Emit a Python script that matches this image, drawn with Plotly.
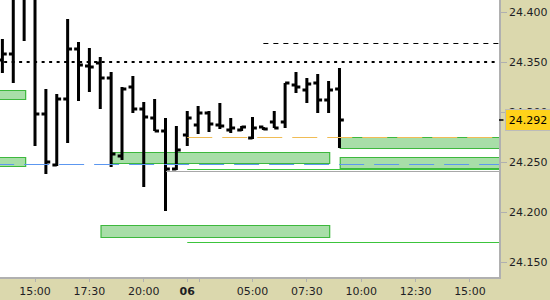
import plotly.graph_objects as go

# ---- data ----
# bar slot index (30-minute bars; 0 = 15:00 on day 5, session gap 22:00-02:00 removed)
slots = list(range(-3, 29))
opens = [24.352, 24.358, 24.420, 24.430, 24.298, 24.247, 24.313, 24.363, 24.346, 24.349,
         24.334, 24.256, 24.325, 24.303, 24.294, 24.281, 24.243, 24.277, 24.287, 24.299,
         24.287, 24.282, 24.282, 24.274, 24.285, 24.290, 24.290, 24.327, 24.322, 24.329,
         24.312, 24.323]
highs = [24.373, 24.450, 24.450, 24.440, 24.323, 24.318, 24.393, 24.370, 24.364, 24.355,
         24.340, 24.325, 24.336, 24.310, 24.313, 24.294, 24.286, 24.301, 24.306, 24.301,
         24.309, 24.294, 24.286, 24.295, 24.285, 24.301, 24.329, 24.340, 24.334, 24.338,
         24.331, 24.344]
lows = [24.339, 24.329, 24.371, 24.266, 24.238, 24.246, 24.269, 24.311, 24.320, 24.303,
        24.245, 24.252, 24.299, 24.225, 24.281, 24.201, 24.242, 24.266, 24.278, 24.280,
        24.283, 24.279, 24.281, 24.273, 24.282, 24.284, 24.284, 24.319, 24.309, 24.299,
        24.299, 24.264]
closes = [24.358, 24.420, 24.430, 24.298, 24.250, 24.313, 24.363, 24.347, 24.345, 24.334,
          24.258, 24.323, 24.303, 24.295, 24.281, 24.243, 24.262, 24.294, 24.299, 24.288,
          24.286, 24.284, 24.285, 24.284, 24.283, 24.284, 24.329, 24.325, 24.328, 24.312,
          24.322, 24.292]
last_price = 24.292

x_tick_slots = [0, 5, 10, 14, 15.1, 20, 25, 30, 35, 40]
x_tick_labels = ["15:00", "17:30", "20:00", "<b>06</b>", "", "05:00", "07:30", "10:00", "12:30", "15:00"]
y_tick_values = [24.15, 24.20, 24.25, 24.30, 24.35, 24.40]

# horizontal levels: value, start slot
dotted_level = 24.350
resist_level, resist_start = 24.3685, 21
orange_level, orange_start = 24.2745, 14
blue_level = 24.2475
gray_level, gray_start = 24.2405, 12.05
green_levels = [24.2425, 24.1695]
green_starts = [14, 14]

# zones: start slot, end slot, low, high
zone_start = [-4, -4, 6.96, 6.07, 28.07, 28.07]
zone_end = [-0.86, -0.86, 27.1, 27.1, 43, 43]
zone_low = [24.3125, 24.2455, 24.2485, 24.1745, 24.2435, 24.2635]
zone_high = [24.3215, 24.2545, 24.2595, 24.1865, 24.2545, 24.2745]

X_MIN, X_MAX = -3.22, 42.67
Y_MIN, Y_MAX = 24.135, 24.412

TAN = "#DBD8AD"
TXT = "#1E1E24"
FONT = "DejaVu Sans"

fig = go.Figure()

shapes = []
for x0, x1, lo, hi in zip(zone_start, zone_end, zone_low, zone_high):
    shapes.append(dict(type="rect", xref="x", yref="y", x0=x0, x1=min(x1, X_MAX + 1), y0=lo, y1=hi,
                       fillcolor="#A8DEA8", line=dict(color="#3DB83D", width=1.2), layer="below"))

shapes.append(dict(type="line", xref="x", yref="y", x0=X_MIN - 1, x1=X_MAX + 1, y0=dotted_level, y1=dotted_level,
                   line=dict(color="black", width=2, dash="3px,4.5px")))
shapes.append(dict(type="line", xref="x", yref="y", x0=resist_start, x1=X_MAX + 1, y0=resist_level, y1=resist_level,
                   line=dict(color="black", width=1, dash="5px,5px")))
shapes.append(dict(type="line", xref="x", yref="y", x0=orange_start, x1=X_MAX + 1, y0=orange_level, y1=orange_level,
                   line=dict(color="#F0BC55", width=1, dash="25px,10px")))
shapes.append(dict(type="line", xref="x", yref="y", x0=X_MIN - 1, x1=X_MAX + 1, y0=blue_level, y1=blue_level,
                   line=dict(color="#5C97F0", width=1, dash="25px,10px")))
shapes.append(dict(type="line", xref="x", yref="y", x0=gray_start, x1=X_MAX + 1, y0=gray_level, y1=gray_level,
                   line=dict(color="#A8A8A8", width=1)))
for lv, st in zip(green_levels, green_starts):
    shapes.append(dict(type="line", xref="x", yref="y", x0=st, x1=X_MAX + 1, y0=lv, y1=lv,
                       line=dict(color="#3CC43C", width=1)))
# small marker tick at the last price on the axis
shapes.append(dict(type="line", xref="paper", yref="y", x0=1.0, x1=1.009, y0=last_price, y1=last_price,
                   line=dict(color="black", width=1.5)))

fig.add_trace(go.Ohlc(
    x=slots, open=opens, high=highs, low=lows, close=closes,
    increasing=dict(line=dict(color="black", width=3)),
    decreasing=dict(line=dict(color="black", width=3)),
    tickwidth=0.4, showlegend=False, hoverinfo="skip",
))

fig.update_layout(
    width=550, height=300,
    margin=dict(l=0, r=51, t=0, b=23),
    paper_bgcolor=TAN, plot_bgcolor="white",
    font=dict(family=FONT, size=11, color=TXT),
    shapes=shapes,
    showlegend=False,
    xaxis=dict(range=[X_MIN, X_MAX], tickmode="array", tickvals=x_tick_slots, ticktext=x_tick_labels,
               ticks="outside", ticklen=3, tickcolor="#B0B0B0", showgrid=False, zeroline=False,
               showline=True, linecolor="#B0B0B0", linewidth=1.5, rangeslider=dict(visible=False),
               tickfont=dict(family=FONT, size=11, color=TXT)),
    yaxis=dict(range=[Y_MIN, Y_MAX], side="right", tickmode="array", tickvals=y_tick_values,
               tickformat=".3f", ticks="outside", ticklen=6, tickcolor="#B0B0B0", showgrid=False,
               zeroline=False, showline=True, linecolor="#B0B0B0", linewidth=1.5,
               tickfont=dict(family=FONT, size=11, color=TXT)),
    annotations=[dict(xref="paper", yref="y", x=1.0, y=last_price, xanchor="left", yanchor="middle",
                      xshift=6, text="%.3f" % last_price, showarrow=False,
                      bgcolor="#FFD21A", bordercolor="#BBBBBB", borderwidth=1, borderpad=2,
                      width=40, height=16, font=dict(family=FONT, size=11, color="black"))],
)

fig.write_html("out.html")
